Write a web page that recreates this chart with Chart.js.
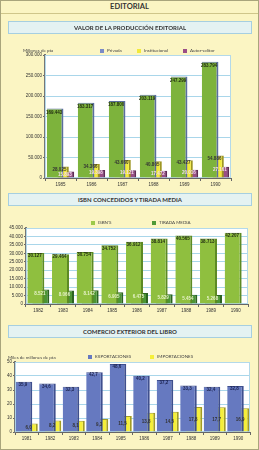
<!DOCTYPE html>
<html><head><meta charset="utf-8">
<script src="https://cdn.jsdelivr.net/npm/chart.js@4"></script>
<style>
html,body{margin:0;padding:0;}
body{width:259px;height:450px;background:#fbf5c3;position:relative;overflow:hidden;font-family:"Lato","Open Sans","DejaVu Sans",sans-serif;color:#333;box-sizing:border-box;}
.frame{position:absolute;left:0;top:0;width:259px;height:450px;box-sizing:border-box;border:1px solid #a9a57c;z-index:5;pointer-events:none;}
.head{position:absolute;left:0;top:1px;width:259px;text-align:center;font-weight:bold;font-size:7.5px;line-height:11px;color:#333;z-index:3;}
.hline{position:absolute;left:1px;top:13px;width:257px;height:1px;background:#cfc68a;z-index:3;}
.tbox{position:absolute;left:8px;width:242px;height:11px;background:#e4f2f2;border:1px solid #a6cfe0;text-align:center;font-weight:bold;font-size:6px;line-height:11px;color:#333;z-index:3;}
.lg{position:absolute;font-size:4.5px;line-height:5px;color:#444;z-index:3;white-space:nowrap;}
.lg i{display:inline-block;width:4px;height:4px;margin-right:3px;vertical-align:-0.5px;}
.unit{position:absolute;font-size:4.5px;line-height:5px;color:#444;z-index:3;white-space:nowrap;}
canvas{position:absolute;left:0;}
</style>
</head><body>
<div class="frame"></div>
<div class="head">EDITORIAL</div>
<div class="hline"></div>

<div class="tbox" style="top:21px;">VALOR DE LA PRODUCCIÓN EDITORIAL</div>
<div class="unit" style="left:23px;top:48px;">Millones de pta</div>
<div class="lg" style="left:100px;top:48px;"><i style="background:#7a8bc6"></i>Privada</div>
<div class="lg" style="left:137px;top:48px;"><i style="background:#f2ea3a"></i>Institucional</div>
<div class="lg" style="left:183px;top:48px;"><i style="background:#9a4e86"></i>Autor-editor</div>
<canvas id="c1" width="259" height="150" style="top:46px;"></canvas>

<div class="tbox" style="top:193px;">ISBN CONCEDIDOS Y TIRADA MEDIA</div>
<div class="lg" style="left:91px;top:220px;"><i style="background:#9cc94a"></i>ISBN'S</div>
<div class="lg" style="left:152px;top:220px;"><i style="background:#4e9a36"></i>TIRADA MEDIA</div>
<canvas id="c2" width="259" height="96" style="top:220px;"></canvas>

<div class="tbox" style="top:325px;">COMERCIO EXTERIOR DEL LIBRO</div>
<div class="lg" style="left:88px;top:354px;"><i style="background:#6679c0"></i>EXPORTACIONES</div>
<div class="lg" style="left:150px;top:354px;"><i style="background:#f5ef3a"></i>IMPORTACIONES</div>
<div class="unit" style="left:8px;top:355px;">Miles de millones de pta</div>
<canvas id="c3" width="259" height="88" style="top:356px;"></canvas>

<script>
// ---- Data ----
const years1 = ['1985','1986','1987','1988','1989','1990'];
const privada = [169443, 183317, 187800, 203119, 247299, 283794];
const institucional = [28025, 34366, 43660, 40805, 43427, 54886];
const autorEditor = [15893, 19398, 19121, 17472, 20016, 27161];

const years2 = ['1982','1983','1984','1985','1986','1987','1988','1989','1990'];
const isbns = [30127, 29464, 30754, 34752, 36912, 38814, 40565, 38713, 42207];
const tiradaMedia = [8521, 8066, 8142, 6905, 6475, 5829, 5454, 5268, null];

const years3 = ['1981','1982','1983','1984','1985','1986','1987','1988','1989','1990'];
const exportaciones = [35.9, 34.6, 32.3, 42.7, 48.6, 40.2, 37.2, 33.3, 32.4, 32.8];
const importaciones = [6.0, 8.2, 8.1, 9.3, 11.5, 13.8, 14.5, 17.8, 17.7, 16.9];

// ---- Helpers ----
const dots = v => String(Math.round(v)).replace(/\B(?=(\d{3})+(?!\d))/g, '.');
const comma = v => v.toFixed(1).replace('.', ',');
const FONT = '"Liberation Sans","DejaVu Sans",sans-serif';

const bgPlugin = {
  id: 'bgArea',
  beforeDatasetsDraw(c) {
    const a = c.chartArea, ctx = c.ctx;
    ctx.save();
    ctx.strokeStyle = '#b3d9ea';
    ctx.lineWidth = 1;
    ctx.strokeRect(a.left + 0.5, a.top + 0.5, a.right - a.left - 1, a.bottom - a.top - 1);
    ctx.restore();
  },
  beforeDraw(c) {
    const a = c.chartArea, ctx = c.ctx;
    ctx.save();
    ctx.fillStyle = '#ffffff';
    ctx.fillRect(a.left, a.top, a.right - a.left, a.bottom - a.top);
    ctx.restore();
  }
};

function makeLabels(specs, fmt) {
  return {
    id: 'vlabels',
    afterDatasetsDraw(c) {
      const ctx = c.ctx;
      ctx.save();
      ctx.font = 'bold 4.5px ' + FONT;
      ctx.textAlign = 'center';
      ctx.textBaseline = 'middle';
      c.data.datasets.forEach((ds, i) => {
        const sp = specs[i];
        const meta = c.getDatasetMeta(i);
        meta.data.forEach((el, j) => {
          const v = ds.data[j];
          if (v == null) return;
          const p = el.getProps(['x', 'y', 'base'], true);
          const ty = sp.pos === 'middle' ? (p.y + p.base) / 2 : p.y + sp.off;
          ctx.fillStyle = sp.color;
          ctx.fillText(fmt(v), p.x - 1, ty);
        });
      });
      ctx.restore();
    }
  };
}

function baseScales(yMax, step, yWidth, tickFmt) {
  return {
    x: {
      grid: { offset: true, drawOnChartArea: false, tickLength: 3, tickColor: '#666' },
      border: { color: '#666', width: 1 },
      ticks: { font: { size: 4.5, family: FONT }, color: '#333', padding: 1, maxRotation: 0, autoSkip: false },
      afterFit(s) { s.height = 12; }
    },
    y: {
      min: 0, max: yMax,
      ticks: { stepSize: step, font: { size: 4.5, family: FONT }, color: '#333', padding: 1, callback: v => tickFmt(v) },
      grid: { color: '#a9d6ea', tickLength: 2, tickColor: '#666' },
      border: { color: '#777', width: 2 },
      afterFit(s) { s.width = yWidth; }
    }
  };
}

const common = {
  responsive: false,
  animation: false,
  devicePixelRatio: 1,
  plugins: { legend: { display: false }, tooltip: { enabled: false } }
};

// ---- Chart 1 ----
new Chart(document.getElementById('c1'), {
  type: 'bar',
  data: {
    labels: years1,
    datasets: [
      { label: 'Privada', data: privada, backgroundColor: '#7db33c', borderColor: '#5a6d9e', borderWidth: { right: 2, top: 1 } },
      { label: 'Institucional', data: institucional, backgroundColor: '#f2ea3a', borderColor: '#9e9624', borderWidth: { right: 2, top: 1 } },
      { label: 'Autor-editor', data: autorEditor, backgroundColor: '#9a4e86', borderColor: '#5f2a55', borderWidth: { right: 2, top: 1 } }
    ]
  },
  options: Object.assign({}, common, {
    layout: { padding: { left: 0, right: 28, top: 9, bottom: 6 } },
    datasets: { bar: { categoryPercentage: 0.52, barPercentage: 3.1 } },
    scales: baseScales(300000, 50000, 45, dots)
  }),
  plugins: [bgPlugin, makeLabels([
    { pos: 'top', off: 4, color: '#1f2a10' },
    { pos: 'top', off: 3, color: '#333' },
    { pos: 'top', off: 3, color: '#f3dcef' }
  ], dots)]
});

// ---- Chart 2 ----
new Chart(document.getElementById('c2'), {
  type: 'bar',
  data: {
    labels: years2,
    datasets: [
      { label: "ISBN'S", data: isbns, backgroundColor: '#8fbf3f', borderColor: '#5d8a24', borderWidth: { right: 2, top: 1 } },
      { label: 'TIRADA MEDIA', data: tiradaMedia, backgroundColor: '#4b9533', borderColor: '#2b6320', borderWidth: { right: 2, top: 1 } }
    ]
  },
  options: Object.assign({}, common, {
    layout: { padding: { left: 0, right: 11, top: 8, bottom: 0 } },
    datasets: { bar: { categoryPercentage: 0.405, barPercentage: 3.4 } },
    scales: baseScales(45000, 5000, 26, dots)
  }),
  plugins: [bgPlugin, makeLabels([
    { pos: 'top', off: 3, color: '#1f2a10' },
    { pos: 'top', off: 4, color: '#e6f2c8' }
  ], dots)]
});

// ---- Chart 3 ----
new Chart(document.getElementById('c3'), {
  type: 'bar',
  data: {
    labels: years3,
    datasets: [
      { label: 'EXPORTACIONES', data: exportaciones, backgroundColor: '#6679c0', borderColor: '#3f4f8e', borderWidth: { right: 2, top: 1 } },
      { label: 'IMPORTACIONES', data: importaciones, backgroundColor: '#f5ef3a', borderColor: '#a39c24', borderWidth: { right: 2, top: 1 } }
    ]
  },
  options: Object.assign({}, common, {
    layout: { padding: { left: 0, right: 9, top: 6, bottom: 0 } },
    datasets: { bar: { categoryPercentage: 0.47, barPercentage: 3.0 } },
    scales: baseScales(50, 5, 15, v => String(v))
  }),
  plugins: [bgPlugin, makeLabels([
    { pos: 'top', off: 3, color: '#1c2350' },
    { pos: 'middle', off: 0, color: '#333' }
  ], comma)]
});
</script>
</body></html>
